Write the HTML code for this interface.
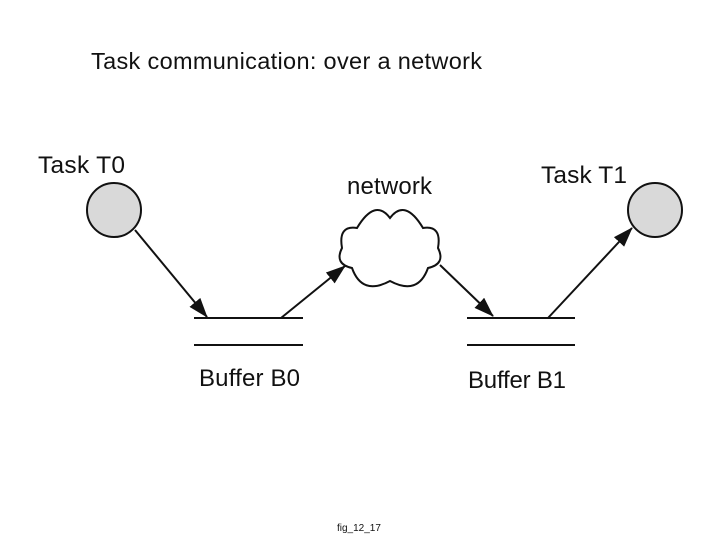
<!DOCTYPE html>
<html><head><meta charset="utf-8"><style>
body{margin:0;background:#fff;}
svg{display:block;}
text{font-family:"Liberation Sans",sans-serif;fill:#111;}
</style></head><body>
<svg width="720" height="540" viewBox="0 0 720 540">
<defs><marker id="a" markerWidth="20" markerHeight="14" refX="19" refY="7" orient="auto" markerUnits="userSpaceOnUse"><path d="M0,0 L20,7 L0,14 Z" fill="#111"/></marker></defs>
<text x="91" y="69" font-size="23.5" fill="#000" textLength="391">Task communication: over a network</text>
<text x="38" y="173" font-size="24.5" textLength="87">Task T0</text>
<text x="541" y="183" font-size="24.5" textLength="86">Task T1</text>
<text x="347" y="194" font-size="24" textLength="85">network</text>
<text x="199" y="386" font-size="24" textLength="101">Buffer B0</text>
<text x="468" y="388" font-size="24" textLength="98">Buffer B1</text>
<circle cx="114" cy="210" r="27" fill="#d9d9d9" stroke="#111" stroke-width="2"/>
<circle cx="655" cy="210" r="27" fill="#d9d9d9" stroke="#111" stroke-width="2"/>
<g stroke="#111" stroke-width="2">
<line x1="194" y1="318" x2="303" y2="318"/><line x1="194" y1="345" x2="303" y2="345"/>
<line x1="467" y1="318" x2="575" y2="318"/><line x1="467" y1="345" x2="575" y2="345"/>
<line x1="135" y1="230" x2="207" y2="317" marker-end="url(#a)"/>
<line x1="281" y1="318" x2="345" y2="266" marker-end="url(#a)"/>
<line x1="440" y1="265" x2="493" y2="316" marker-end="url(#a)"/>
<line x1="548" y1="318" x2="632" y2="228" marker-end="url(#a)"/>
</g>
<path d="M390,218 Q375,198 357,228 Q338,225 342,248 Q334,264 352,268 Q362,296 390,281 Q418,296 428,268 Q446,264 438,248 Q442,225 423,228 Q405,198 390,218Z" fill="#fff" stroke="#111" stroke-width="2"/>
<text x="337" y="531" font-size="10">fig_12_17</text>
</svg>
</body></html>
